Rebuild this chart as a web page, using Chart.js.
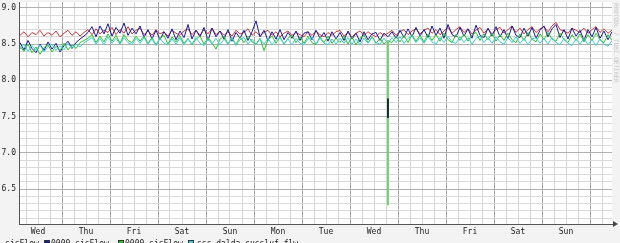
<!DOCTYPE html>
<html>
<head>
<meta charset="utf-8">
<script src="https://cdn.jsdelivr.net/npm/chart.js@4"></script>
<style>
  html, body { margin: 0; padding: 0; width: 620px; height: 243px; overflow: hidden; background: #f3f3f3; }
  #wrap { position: relative; width: 620px; height: 243px; }
  #legend span { position: absolute; top: 239px; font: 8px "DejaVu Sans Mono", monospace; color: #222; white-space: nowrap; }
  #legend span.box { top: 240px; width: 4px; height: 4px; border: 1px solid #333; }
  #credit { position: absolute; left: 613px; top: 3px; writing-mode: vertical-rl; font: 6px "DejaVu Sans Mono", monospace; color: #c4c4c4; }
</style>
</head>
<body>
<div id="wrap">
  <canvas id="grafico" width="620" height="243"></canvas>
  <div id="legend">
    <span style="left:-19px">0000 sisFlow</span>
    <span class="box" style="left:44px;background:#1a1a9a"></span>
    <span style="left:51px">0000 sisFlow</span>
    <span class="box" style="left:118px;background:#2fbf2f"></span>
    <span style="left:125px">0000 sisFlow</span>
    <span class="box" style="left:188px;background:#3fcfd6"></span>
    <span style="left:197px">sss dalda sussluf flw</span>
  </div>
  <div id="credit">RRDTOOL / TOBI OETIKER</div>
</div>
<script>
// one sample every 2 hours, hour 0 = midnight between first Wed and Thu
const startHour = -21;
const stepHours = 2;
const dayLabels = ['Wed', 'Thu', 'Fri', 'Sat', 'Sun', 'Mon', 'Tue', 'Wed', 'Thu', 'Fri', 'Sat', 'Sun'];
const yTickLabels = ['6.5', '7.0', '7.5', '8.0', '8.5', '9.0'];

const red = [
  8.62, 8.67, 8.60, 8.66, 8.63, 8.69, 8.61, 8.66, 8.62, 8.68,
  8.60, 8.65, 8.69, 8.62, 8.67, 8.61, 8.66, 8.70, 8.63, 8.71,
  8.64, 8.69, 8.66, 8.73, 8.63, 8.70, 8.65, 8.74, 8.64, 8.69,
  8.72, 8.63, 8.68, 8.62, 8.70, 8.64, 8.67, 8.61, 8.69, 8.65,
  8.62, 8.68, 8.71, 8.63, 8.69, 8.62, 8.70, 8.64, 8.72, 8.63,
  8.68, 8.62, 8.67, 8.61, 8.69, 8.64, 8.66, 8.71, 8.62, 8.67,
  8.61, 8.66, 8.69, 8.62, 8.67, 8.60, 8.65, 8.68, 8.62, 8.66,
  8.63, 8.60, 8.67, 8.62, 8.68, 8.63, 8.60, 8.66, 8.62, 8.67,
  8.69, 8.61, 8.66, 8.60, 8.65, 8.68, 8.62, 8.67, 8.63, 8.60,
  8.66, 8.62, 8.65, 8.69, 8.62, 8.67, 8.70, 8.63, 8.68, 8.71,
  8.64, 8.69, 8.72, 8.65, 8.70, 8.63, 8.68, 8.73, 8.65, 8.70,
  8.74, 8.66, 8.71, 8.64, 8.69, 8.73, 8.65, 8.71, 8.64, 8.70,
  8.73, 8.65, 8.70, 8.75, 8.66, 8.72, 8.64, 8.70, 8.74, 8.66,
  8.71, 8.74, 8.67, 8.75, 8.80, 8.70, 8.68, 8.65, 8.72, 8.69,
  8.66, 8.72, 8.65, 8.70, 8.74, 8.66, 8.71, 8.65, 8.69
];
const blue = [
  8.52, 8.42, 8.55, 8.44, 8.38, 8.50, 8.41, 8.53, 8.43, 8.51, 8.39, 8.48, 8.54, 8.44, 8.52, 8.57, 8.61,
  8.66, 8.74, 8.60, 8.75, 8.64, 8.78, 8.61, 8.73, 8.65, 8.79, 8.62, 8.72, 8.64,
  8.75, 8.59, 8.70, 8.57, 8.69, 8.56, 8.67, 8.58, 8.71, 8.56,
  8.68, 8.59, 8.77, 8.57, 8.69, 8.60, 8.73, 8.55, 8.72, 8.60,
  8.68, 8.57, 8.70, 8.54, 8.66, 8.58, 8.69, 8.55, 8.67, 8.82,
  8.60, 8.69, 8.55, 8.67, 8.57, 8.70, 8.56, 8.66, 8.58, 8.68,
  8.55, 8.65, 8.67, 8.56, 8.69, 8.58, 8.66, 8.54, 8.67, 8.57,
  8.66, 8.55, 8.68, 8.57, 8.65, 8.53, 8.67, 8.56, 8.64, 8.66,
  8.55, 8.65, 8.60, 8.67, 8.58, 8.69, 8.59, 8.71, 8.60, 8.73,
  8.61, 8.70, 8.59, 8.75, 8.62, 8.72, 8.58, 8.77, 8.63, 8.60,
  8.73, 8.61, 8.71, 8.58, 8.76, 8.62, 8.59, 8.72, 8.61, 8.74,
  8.60, 8.70, 8.57, 8.75, 8.62, 8.59, 8.72, 8.61, 8.73, 8.58,
  8.69, 8.75, 8.60, 8.71, 8.77, 8.59, 8.70, 8.57, 8.72, 8.61,
  8.69, 8.55, 8.70, 8.60, 8.73, 8.58, 8.68, 8.56, 8.67
];
const green = [
  8.47, 8.40, 8.50, 8.38, 8.46, 8.36, 8.45, 8.49, 8.39, 8.47, 8.41, 8.51, 8.42, 8.49, 8.44, 8.52, 8.55,
  8.58, 8.63, 8.52, 8.61, 8.53, 8.64, 8.54, 8.62, 8.51, 8.63, 8.55, 8.52, 8.61,
  8.54, 8.61, 8.51, 8.59, 8.49, 8.58, 8.62, 8.50, 8.60, 8.53,
  8.61, 8.51, 8.58, 8.49, 8.57, 8.61, 8.50, 8.59, 8.52, 8.43,
  8.57, 8.61, 8.50, 8.59, 8.49, 8.60, 8.52, 8.61, 8.53, 8.50,
  8.58, 8.41, 8.56, 8.61, 8.51, 8.60, 8.50, 8.58, 8.62, 8.52,
  8.60, 8.51, 8.61, 8.52, 8.49, 8.60, 8.52, 8.61, 8.51, 8.58,
  8.52, 8.61, 8.50, 8.60, 8.49, 8.58, 8.62, 8.52, 8.60, 8.51,
  8.58, 8.50, 8.55, 8.52, 8.61, 8.53, 8.62, 8.52, 8.63, 8.54,
  8.62, 8.53, 8.64, 8.55, 8.63, 8.54, 8.65, 8.56, 8.52, 8.63,
  8.55, 8.64, 8.54, 8.63, 8.66, 8.55, 8.64, 8.56, 8.65, 8.54,
  8.63, 8.55, 8.65, 8.56, 8.52, 8.64, 8.55, 8.66, 8.57, 8.53,
  8.64, 8.56, 8.66, 8.57, 8.54, 8.65, 8.56, 8.52, 8.63, 8.55,
  8.64, 8.53, 8.63, 8.55, 8.65, 8.56, 8.52, 8.63, 8.55
];
const cyan = [
  8.43, 8.50, 8.40, 8.48, 8.41, 8.49, 8.39, 8.47, 8.50, 8.41, 8.48, 8.42, 8.51, 8.44, 8.50, 8.46, 8.52,
  8.55, 8.59, 8.50, 8.58, 8.49, 8.60, 8.51, 8.58, 8.50, 8.59, 8.52, 8.49, 8.58,
  8.51, 8.59, 8.50, 8.57, 8.48, 8.58, 8.51, 8.49, 8.57, 8.50,
  8.58, 8.49, 8.57, 8.50, 8.59, 8.51, 8.48, 8.57, 8.50, 8.58,
  8.49, 8.57, 8.50, 8.58, 8.48, 8.56, 8.59, 8.50, 8.57, 8.49,
  8.57, 8.50, 8.58, 8.49, 8.56, 8.59, 8.50, 8.57, 8.49, 8.58,
  8.51, 8.49, 8.57, 8.59, 8.50, 8.58, 8.51, 8.49, 8.57, 8.50,
  8.58, 8.51, 8.59, 8.50, 8.57, 8.49, 8.58, 8.51, 8.59, 8.52,
  8.50, 8.58, 8.51, 8.59, 8.52, 8.60, 8.51, 8.58, 8.61, 8.52,
  8.59, 8.51, 8.60, 8.53, 8.50, 8.59, 8.52, 8.61, 8.53, 8.51,
  8.60, 8.52, 8.59, 8.50, 8.58, 8.61, 8.52, 8.59, 8.51, 8.60,
  8.53, 8.50, 8.59, 8.52, 8.60, 8.51, 8.58, 8.49, 8.57, 8.59,
  8.51, 8.58, 8.50, 8.59, 8.52, 8.49, 8.58, 8.51, 8.48, 8.57,
  8.50, 8.58, 8.49, 8.56, 8.48, 8.57, 8.50, 8.47, 8.55
];
// Wed glitch: green drops straight down, blue shows a short dark drop
const glitchHour = 163;
const greenDrop = [8.55, 6.28];
const blueDip = [7.75, 7.48];

function pontos(valores) {
  return valores.map(function(v, i) { return { x: startHour + i * stepHours, y: v }; });
}
function vertical(valores) {
  return valores.map(function(v) { return { x: glitchHour, y: v }; });
}

const fundoBranco = {
  id: 'fundoBranco',
  beforeDraw: function(chart) {
    const a = chart.chartArea;
    chart.ctx.save();
    chart.ctx.fillStyle = '#ffffff';
    chart.ctx.fillRect(a.left, a.top, a.right - a.left, a.bottom - a.top);
    chart.ctx.restore();
  },
  afterDraw: function(chart) {
    const a = chart.chartArea;
    const c = chart.ctx;
    c.save();
    c.fillStyle = '#444';
    c.beginPath();
    c.moveTo(a.right + 1, a.bottom - 3);
    c.lineTo(a.right + 6, a.bottom);
    c.lineTo(a.right + 1, a.bottom + 3);
    c.closePath();
    c.fill();
    c.restore();
  }
};

// Chart.js paints the lowest "order" last, so cyan ends on top like the rrd graph
const ctx = document.getElementById('grafico').getContext('2d');
const grafico = new Chart(ctx, {
  type: 'line',
  data: {
    datasets: [
      { label: '0000 sisFlow', data: pontos(red), borderColor: '#c83a3a', order: 6 },
      { label: '0000 sisFlow', data: pontos(blue), borderColor: '#1a1a9a', order: 5 },
      { label: '0000 sisFlow', data: pontos(green), borderColor: '#2fbf2f', order: 4 },
      { label: 'sss dalda sussluf flw', data: pontos(cyan), borderColor: '#3fcfd6', order: 3 },
      { label: '', data: vertical(greenDrop), borderColor: '#74d474', borderWidth: 2, order: 2 },
      { label: '', data: vertical(blueDip), borderColor: '#14362a', borderWidth: 2, order: 1 }
    ]
  },
  options: {
    responsive: false,
    animation: false,
    layout: { padding: { top: 2, right: 8, left: 0, bottom: 0 } },
    elements: {
      point: { radius: 0 },
      line: { borderWidth: 1, tension: 0, fill: false }
    },
    plugins: {
      legend: { display: false },
      tooltip: { enabled: false }
    },
    scales: {
      x: {
        type: 'linear',
        min: -21.5,
        max: 275,
        afterBuildTicks: function(scale) {
          const t = [];
          for (let h = -18; h <= 270; h += 6) t.push({ value: h });
          scale.ticks = t;
        },
        afterFit: function(scale) {
          scale.height = 19;
          scale.paddingLeft = 0;
          scale.paddingRight = 0;
        },
        ticks: {
          autoSkip: false,
          maxRotation: 0,
          padding: 3,
          color: '#222',
          font: { family: 'DejaVu Sans Mono', size: 8 },
          callback: function(v) {
            if (((v % 24) + 24) % 24 !== 12) return '';
            return dayLabels[(v + 12) / 24] || '';
          }
        },
        grid: {
          drawTicks: false,
          color: function(c) {
            const v = c.tick ? c.tick.value : 1;
            return (((v % 24) + 24) % 24 === 0) ? '#a6a6a6' : '#d6d6d6';
          }
        },
        border: { color: '#555', width: 1 }
      },
      y: {
        min: 6.02,
        max: 9.08,
        afterBuildTicks: function(scale) {
          const t = [];
          for (let k = 61; k <= 90; k++) t.push({ value: k / 10 });
          scale.ticks = t;
        },
        afterFit: function(scale) {
          scale.width = 19;
          scale.paddingTop = 0;
          scale.paddingBottom = 0;
        },
        ticks: {
          autoSkip: false,
          padding: 3,
          color: '#222',
          font: { family: 'DejaVu Sans Mono', size: 8 },
          callback: function(v) {
            const s = v.toFixed(1);
            return yTickLabels.indexOf(s) >= 0 && Math.abs(v * 2 - Math.round(v * 2)) < 1e-6 ? s : '';
          }
        },
        grid: {
          drawTicks: false,
          color: function(c) {
            const v = c.tick ? c.tick.value : 0;
            return Math.abs(v * 2 - Math.round(v * 2)) < 1e-6 ? '#b0b0b0' : '#dadada';
          }
        },
        border: { color: '#555', width: 1 }
      }
    }
  },
  plugins: [fundoBranco]
});
</script>
</body>
</html>
